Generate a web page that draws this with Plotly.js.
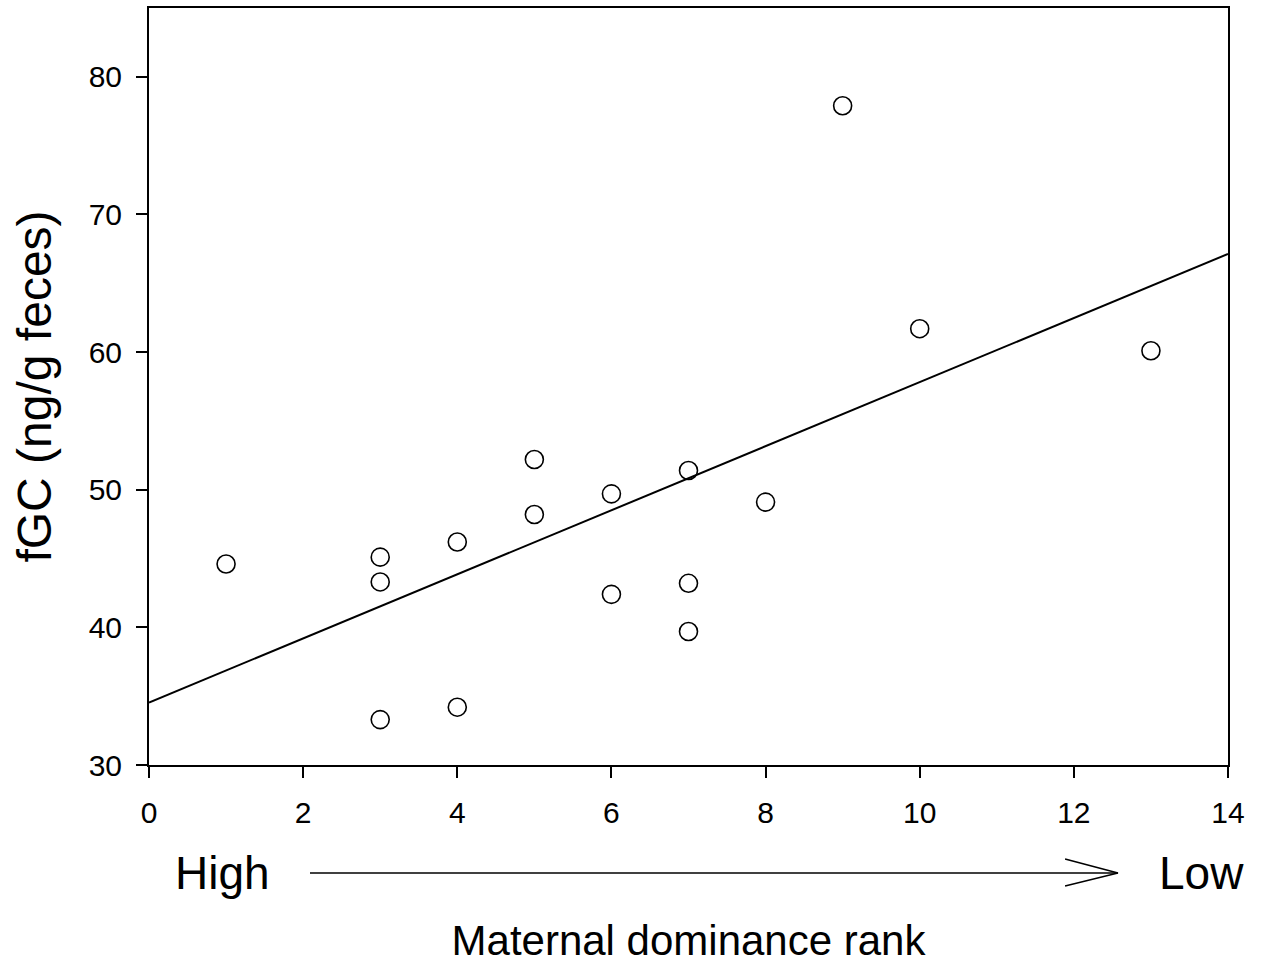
<!DOCTYPE html>
<html>
<head>
<meta charset="utf-8">
<script src="https://cdn.plot.ly/plotly-3.0.1.min.js"></script>
<style>html,body{margin:0;padding:0;background:#fff;}#chart{width:1266px;height:966px;}</style>
</head>
<body>
<div id="chart"></div>
<script>
// Maternal dominance rank (x) and fGC (ng/g feces) (y)
const rank = [1, 3, 3, 3, 4, 4, 5, 5, 6, 6, 7, 7, 7, 8, 9, 10, 13];
const fgc  = [44.6, 45.1, 43.3, 33.3, 46.2, 34.2, 52.2, 48.2, 49.7, 42.4, 51.4, 43.2, 39.7, 49.1, 77.9, 61.7, 60.1];
const xTicks = [0, 2, 4, 6, 8, 10, 12, 14];
const yTicks = [30, 40, 50, 60, 70, 80];
const xRange = [0, 14];
const yRange = [30, 85];

// least-squares regression line
const n = rank.length;
const mx = rank.reduce((a, b) => a + b, 0) / n;
const my = fgc.reduce((a, b) => a + b, 0) / n;
let sxy = 0, sxx = 0;
for (let i = 0; i < n; i++) { sxy += (rank[i] - mx) * (fgc[i] - my); sxx += (rank[i] - mx) ** 2; }
const slope = sxy / sxx;
const intercept = my - slope * mx;
const lineX = [xRange[0], xRange[1]];
const lineY = lineX.map(x => intercept + slope * x);

const font = 'Liberation Sans, Arial, sans-serif';

const data = [
  {x: lineX, y: lineY, mode: 'lines', type: 'scatter', line: {color: '#000', width: 2}, hoverinfo: 'skip', cliponaxis: true},
  {x: rank, y: fgc, mode: 'markers', type: 'scatter',
   marker: {symbol: 'circle-open', size: 18, color: '#000', line: {width: 1.6, color: '#000'}}, cliponaxis: false}
];

const layout = {
  width: 1266, height: 966,
  margin: {l: 149, r: 38, t: 8, b: 201},
  paper_bgcolor: '#fff', plot_bgcolor: '#fff',
  showlegend: false,
  font: {family: font, color: '#000'},
  xaxis: {
    range: xRange, tickvals: xTicks, ticktext: xTicks.map(String),
    showgrid: false, zeroline: false, showline: true, linecolor: '#000', linewidth: 2, mirror: true,
    ticks: 'outside', ticklen: 11, tickwidth: 2, tickcolor: '#000',
    tickfont: {size: 30, family: font, color: '#000'}, ticklabelstandoff: 9,
    title: {text: 'Maternal dominance rank', font: {size: 42, family: font, color: '#000'}, standoff: 98},
    automargin: false
  },
  yaxis: {
    range: yRange, tickvals: yTicks, ticktext: yTicks.map(String),
    showgrid: false, zeroline: false, showline: true, linecolor: '#000', linewidth: 2, mirror: true,
    ticks: 'outside', ticklen: 11, tickwidth: 2, tickcolor: '#000',
    tickfont: {size: 30, family: font, color: '#000'}, ticklabelstandoff: 8,
    title: {text: 'fGC (ng/g feces)', font: {size: 48, family: font, color: '#000'}, standoff: 22},
    automargin: false
  },
  shapes: [
    {type: 'line', xref: 'paper', yref: 'paper', x0: 0.1492, x1: 0.898, y0: -0.1427, y1: -0.1427, line: {color: '#000', width: 1.5}},
    {type: 'path', xref: 'paper', yref: 'paper', path: 'M 0.849 -0.1242 L 0.898 -0.1427 L 0.849 -0.1598', line: {color: '#000', width: 1.5}}
  ],
  annotations: [
    {text: 'High', xref: 'paper', yref: 'paper', x: 0.0677, y: -0.1427, xanchor: 'center', yanchor: 'middle', showarrow: false, font: {size: 46, family: font, color: '#000'}},
    {text: 'Low', xref: 'paper', yref: 'paper', x: 0.975, y: -0.1427, xanchor: 'center', yanchor: 'middle', showarrow: false, font: {size: 46, family: font, color: '#000'}}
  ]
};

Plotly.newPlot('chart', data, layout, {staticPlot: true, displayModeBar: false});
</script>
</body>
</html>
